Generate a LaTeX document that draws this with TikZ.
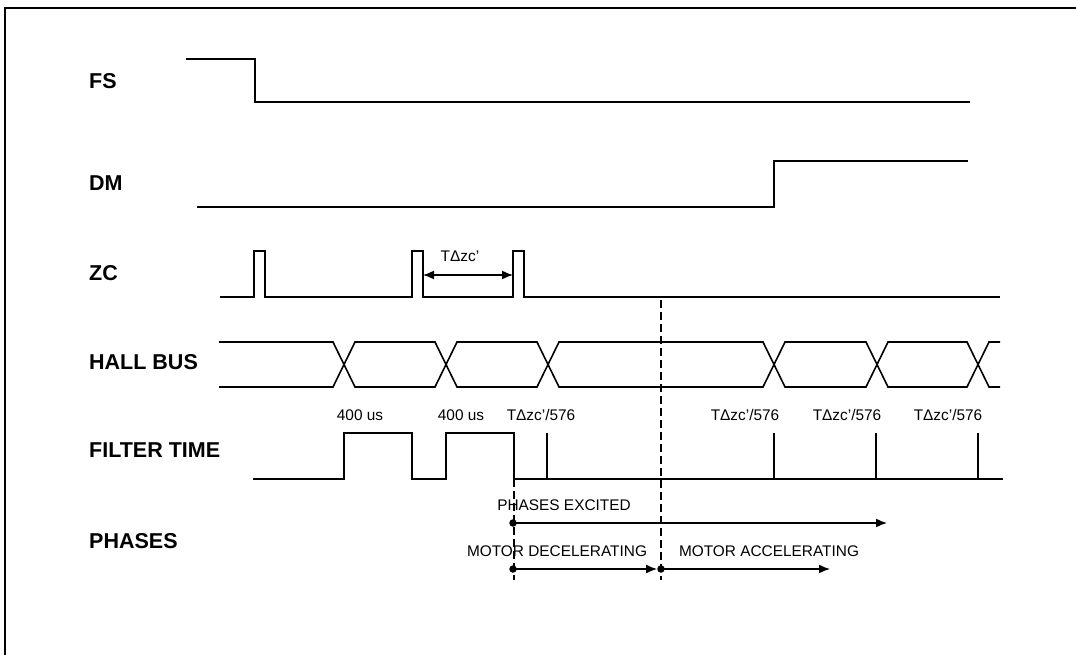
\documentclass[tikz,border=0pt]{standalone}
\usepackage{fontspec}
\setmainfont{Liberation Sans}
\usetikzlibrary{arrows.meta}
\begin{document}
\begin{tikzpicture}[x=1pt,y=-1pt,
  sig/.style={line width=1.6pt, line join=miter},
  lbl/.style={font=\fontsize{21.5}{25}\selectfont\bfseries, anchor=west, inner sep=0pt},
  txt/.style={font=\fontsize{15.4}{18}\selectfont, inner sep=0pt},
  dot/.style={circle, fill, inner sep=0pt, minimum size=7.5pt},
  tip/.style={-{Latex[length=11pt,width=9pt]}},
  arr/.style={line width=1.5pt, tip},
  vdash/.style={line width=1.3pt, dash pattern=on 8pt off 4pt}]
\useasboundingbox (0,0) rectangle (1076,655);
\clip (0,0) rectangle (1076,655);
% frame
\draw[line width=2.6pt] (5,680) -- (5,8) -- (1100,8);
% labels
\node[lbl] (fs)   at (89,81)  {FS};
\node[lbl] (dm)   at (89,183) {DM};
\node[lbl] (zc)   at (89,273) {ZC};
\node[lbl] (hall) at (89,362) {HALL BUS};
\node[lbl] (filt) at (89,450) {FILTER TIME};
\node[lbl] (ph)   at (89,541) {PHASES};
% FS
\draw[sig] (186,59) -- (255,59) -- (255,102) -- (970,102);
% DM
\draw[sig] (197,207) -- (774,207) -- (774,161) -- (968,161);
% ZC
\draw[sig] (220,297) -- (254,297) -- (254,251) -- (265,251) -- (265,297)
  -- (412,297) -- (412,251) -- (423,251) -- (423,297)
  -- (513,297) -- (513,251) -- (524,251) -- (524,297) -- (1000,297);
\coordinate (za) at (423,275);
\coordinate (zb) at (513,275);
\draw[line width=1.5pt, {Latex[length=11pt,width=9pt]}-{Latex[length=11pt,width=9pt]}] (za) -- (zb);
\node[txt] (tdz) at (460,256) {TΔzc’};
% HALL BUS
\draw[sig] (219,342) -- (333,342) -- (355,387) -- (435,387) -- (457,342)
  -- (537,342) -- (559,387) -- (763,387) -- (785,342) -- (866,342)
  -- (888,387) -- (967,387) -- (989,342) -- (1000,342);
\draw[sig] (219,387) -- (333,387) -- (355,342) -- (435,342) -- (457,387)
  -- (537,387) -- (559,342) -- (763,342) -- (785,387) -- (866,387)
  -- (888,342) -- (967,342) -- (989,387) -- (1000,387);
% FILTER TIME
\draw[sig] (253,479) -- (344,479) -- (344,433) -- (412,433) -- (412,479)
  -- (446,479) -- (446,433) -- (514,433) -- (514,479) -- (1003,479);
\draw[sig] (547,479) -- (547,433);
\draw[sig] (774,479) -- (774,433);
\draw[sig] (876,479) -- (876,433);
\draw[sig] (978,479) -- (978,433);
\node[txt] (f1) at (360,415) {400 us};
\node[txt] (f2) at (461,415) {400 us};
\node[txt] (f3) at (541,415) {TΔzc’/576};
\node[txt] (f4) at (745,415) {TΔzc’/576};
\node[txt] (f5) at (847,415) {TΔzc’/576};
\node[txt] (f6) at (948,415) {TΔzc’/576};
% dashed markers
\draw[vdash] (661,300) -- (661,580);
\draw[vdash] (514,479) -- (514,580);
% PHASES
\node[txt] (pe) at (564,505) {PHASES EXCITED};
\node[dot] (d1) at (513,523) {};
\coordinate (e1) at (887,523);
\draw[arr] (d1.center) -- (e1);
\node[txt] (md) at (557,551) {MOTOR DECELERATING};
\node[txt] (ma) at (769,551) {MOTOR ACCELERATING};
\node[dot] (d2) at (513,569) {};
\node[dot] (d3) at (661,569) {};
\coordinate (e3) at (830,569);
\draw[arr] (d2.center) -- (d3.west);
\draw[arr] (d3.center) -- (e3);
\end{tikzpicture}
\end{document}
